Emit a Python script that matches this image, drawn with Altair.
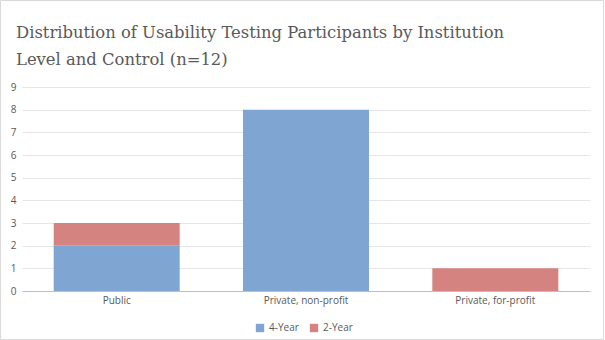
import altair as alt
import pandas as pd

categories = ["Public", "Private, non-profit", "Private, for-profit"]
four_year = [2, 8, 0]
two_year = [1, 0, 1]
series = ["4-Year", "2-Year"]
colors = ["#7FA6D2", "#D48381"]
title_lines = ["Distribution of Usability Testing Participants by Institution",
               "Level and Control (n=12)"]

rows = []
for c, a, b in zip(categories, four_year, two_year):
    rows.append({"Category": c, "Level": "4-Year", "Count": a, "order": 0})
    rows.append({"Category": c, "Level": "2-Year", "Count": b, "order": 1})
df = pd.DataFrame(rows)

W, H = 568, 204
PL, PT, PR, PB = 22, 87, 15, 49

bars = alt.Chart(df).mark_bar(size=126).encode(
    x=alt.X("Category:N", sort=categories, title=None,
            scale=alt.Scale(paddingInner=0.333, paddingOuter=0.1667),
            axis=alt.Axis(labelAngle=0, labelFontSize=10, labelColor="#595959",
                          labelFont="Open Sans", ticks=False, domainColor="#BFBFBF",
                          labelPadding=4, grid=False)),
    y=alt.Y("Count:Q", stack="zero", title=None,
            scale=alt.Scale(domain=[0, 9], nice=False),
            axis=alt.Axis(values=list(range(10)), labelFontSize=10, labelColor="#595959",
                          labelFont="Open Sans", ticks=False, domain=False,
                          gridColor="#E6E6E6", labelPadding=6)),
    color=alt.Color("Level:N", sort=series,
                    scale=alt.Scale(domain=series, range=colors),
                    legend=alt.Legend(orient="none", legendX=233, legendY=236,
                                      title=None, symbolType="square",
                                      labelFontSize=10, labelColor="#595959",
                                      labelFont="Open Sans", symbolSize=70,
                                      direction="horizontal", columnPadding=10)),
    order=alt.Order("order:Q"),
)

frame = alt.Chart(pd.DataFrame({"a": [0]})).mark_rect(
    fill=None, stroke="#D9D9D9", strokeWidth=1
).encode(
    x=alt.value(-PL + 0.5), x2=alt.value(W + PR - 1.5),
    y=alt.value(-PT + 0.5), y2=alt.value(H + PB - 0.5),
)

title_marks = []
for i, line in enumerate(title_lines):
    title_marks.append(
        alt.Chart(pd.DataFrame({"t": [line]})).mark_text(
            align="left", baseline="alphabetic", font="DejaVu Serif",
            fontSize=16.4, color="#595959"
        ).encode(
            text="t:N",
            x=alt.value(16 - PL),
            y=alt.value(38 - PT + 27 * i),
        )
    )

chart = alt.layer(bars, frame, *title_marks).properties(
    width=W, height=H,
).configure_view(stroke=None).properties(
    autosize=alt.AutoSizeParams(type="none"),
    padding={"left": PL, "top": PT, "right": PR, "bottom": PB},
    background="white",
)

chart.save("out.html", embed_options={"renderer": "svg", "actions": False})
